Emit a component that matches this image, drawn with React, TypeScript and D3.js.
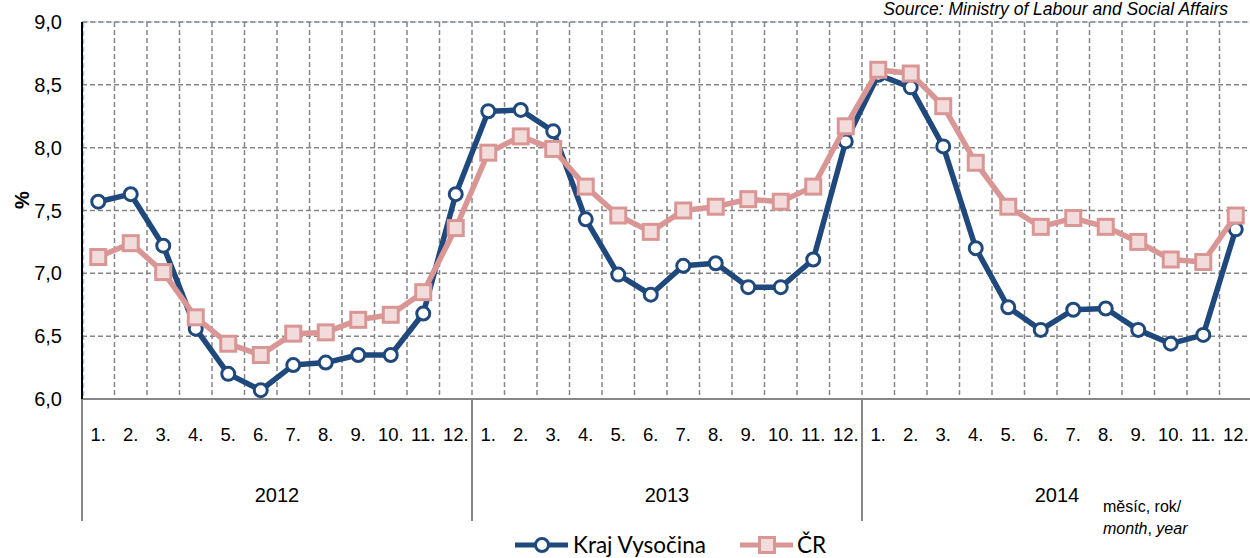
import React from "react";
import * as d3 from "d3";

const years = ["2012", "2013", "2014"];
const months = ["1.", "2.", "3.", "4.", "5.", "6.", "7.", "8.", "9.", "10.", "11.", "12."];
const yTicks = [6.0, 6.5, 7.0, 7.5, 8.0, 8.5, 9.0];

const krajVysocina = [
  7.57, 7.63, 7.22, 6.56, 6.2, 6.07, 6.27, 6.29, 6.35, 6.35, 6.68, 7.63,
  8.29, 8.3, 8.13, 7.43, 6.99, 6.83, 7.06, 7.08, 6.89, 6.89, 7.11, 8.05,
  8.58, 8.48, 8.01, 7.2, 6.73, 6.55, 6.71, 6.72, 6.55, 6.44, 6.51, 7.35,
];
const cr = [
  7.13, 7.24, 7.01, 6.65, 6.44, 6.35, 6.52, 6.53, 6.63, 6.67, 6.85, 7.36,
  7.96, 8.09, 7.99, 7.69, 7.46, 7.33, 7.5, 7.53, 7.59, 7.57, 7.69, 8.17,
  8.62, 8.59, 8.33, 7.88, 7.53, 7.37, 7.44, 7.37, 7.25, 7.11, 7.09, 7.46,
];

const W = 1250;
const H = 558;
const left = 82;
const right = 1252;
const top = 22;
const bottom = 399;

const BLUE = "#1F497D";
const PINK = "#D99694";
const PINK_FILL = "#F2DCDB";
const GRID = "#868686";

export default function App() {
  const idx = d3.range(36);
  const x = d3.scaleBand<number>().domain(idx).range([left, right]).padding(0);
  const bw = x.bandwidth();
  const cx = (i: number) => (x(i) as number) + bw / 2;
  const y = d3.scaleLinear().domain([6, 9]).range([bottom, top]);
  const line = d3
    .line<number>()
    .x((_, i) => cx(i))
    .y((d) => y(d));

  const yearEdges = d3.range(4).map((k) => (k < 3 ? (x(k * 12) as number) : right));

  return (
    <svg
      width={W}
      height={H}
      style={{ position: "absolute", left: 0, top: 0, background: "#fff", fontFamily: "'Liberation Sans', Arial, sans-serif" }}
    >
      {/* source */}
      <text x={1228} y={15} textAnchor="end" fontSize={17.5} fontStyle="italic" fill="#000">
        Source: Ministry of Labour and Social Affairs
      </text>

      {/* plot area border (light blue dashed) */}
      <rect
        x={left + 1.5}
        y={top}
        width={right - left}
        height={bottom - top}
        fill="none"
        stroke="#9DC3E6"
        strokeWidth={1.5}
        strokeDasharray="5,3"
      />

      {/* horizontal grid */}
      {yTicks
        .filter((t) => t > 6)
        .map((t) => (
          <line
            key={"h" + t}
            x1={left}
            x2={right}
            y1={y(t)}
            y2={y(t)}
            stroke={GRID}
            strokeWidth={1.5}
            strokeDasharray="5,3"
          />
        ))}
      {/* vertical grid */}
      {idx.slice(1).map((i) => (
        <line
          key={"v" + i}
          x1={x(i) as number}
          x2={x(i) as number}
          y1={top}
          y2={bottom}
          stroke={GRID}
          strokeWidth={1.5}
          strokeDasharray="5,3"
        />
      ))}

      {/* x axis */}
      <line x1={left} x2={right} y1={bottom} y2={bottom} stroke={GRID} strokeWidth={2} />
      {yearEdges.map((e, k) => (
        <line key={"ye" + k} x1={e} x2={e} y1={bottom} y2={521} stroke={GRID} strokeWidth={2} />
      ))}
      {/* y axis */}
      <line x1={left} x2={left} y1={top} y2={bottom} stroke="#000" strokeWidth={2} />

      {/* y tick labels */}
      {yTicks.map((t) => (
        <text key={"yt" + t} x={62} y={y(t) + 7} textAnchor="end" fontSize={20} fill="#000">
          {t.toFixed(1).replace(".", ",")}
        </text>
      ))}
      <text
        transform={`translate(29,${200}) rotate(-90)`}
        textAnchor="middle"
        fontSize={20}
        fontWeight="bold"
        fill="#000"
      >
        %
      </text>

      {/* month labels */}
      {idx.map((i) => (
        <text key={"m" + i} x={cx(i)} y={441} textAnchor="middle" fontSize={18.5} fill="#000">
          {months[i % 12]}
        </text>
      ))}
      {/* year labels */}
      {years.map((yr, k) => (
        <text
          key={yr}
          x={(yearEdges[k] + yearEdges[k + 1]) / 2}
          y={502}
          textAnchor="middle"
          fontSize={20}
          fill="#000"
        >
          {yr}
        </text>
      ))}
      <text x={1103} y={512} fontSize={16} fill="#000">
        měsíc, rok/
      </text>
      <text x={1103} y={534} fontSize={16} fill="#000">
        <tspan fontStyle="italic">month</tspan>, <tspan fontStyle="italic">year</tspan>
      </text>

      {/* series: Kraj Vysočina */}
      <path d={line(krajVysocina) || ""} fill="none" stroke={BLUE} strokeWidth={5.5} strokeLinejoin="round" />
      {krajVysocina.map((v, i) => (
        <circle key={"b" + i} cx={cx(i)} cy={y(v)} r={6.5} fill="#fff" stroke={BLUE} strokeWidth={3} />
      ))}

      {/* series: ČR */}
      <path d={line(cr) || ""} fill="none" stroke={PINK} strokeWidth={5.5} strokeLinejoin="round" />
      {cr.map((v, i) => (
        <rect
          key={"p" + i}
          x={cx(i) - 7.5}
          y={y(v) - 7.5}
          width={15}
          height={15}
          fill={PINK_FILL}
          stroke={PINK}
          strokeWidth={3}
        />
      ))}

      {/* legend */}
      <g style={{ fontFamily: "Lato, 'Open Sans', sans-serif" }} fontSize={22.5} fill="#000">
        <line x1={515} x2={568} y1={545} y2={545} stroke={BLUE} strokeWidth={5} />
        <circle cx={542} cy={545} r={6.5} fill="#fff" stroke={BLUE} strokeWidth={3} />
        <text x={573} y={553}>Kraj Vysočina</text>
        <line x1={740} x2={793} y1={545} y2={545} stroke={PINK} strokeWidth={5} />
        <rect x={759.5} y={537.5} width={15} height={15} fill={PINK_FILL} stroke={PINK} strokeWidth={3} />
        <text x={797} y={553}>ČR</text>
      </g>
    </svg>
  );
}
